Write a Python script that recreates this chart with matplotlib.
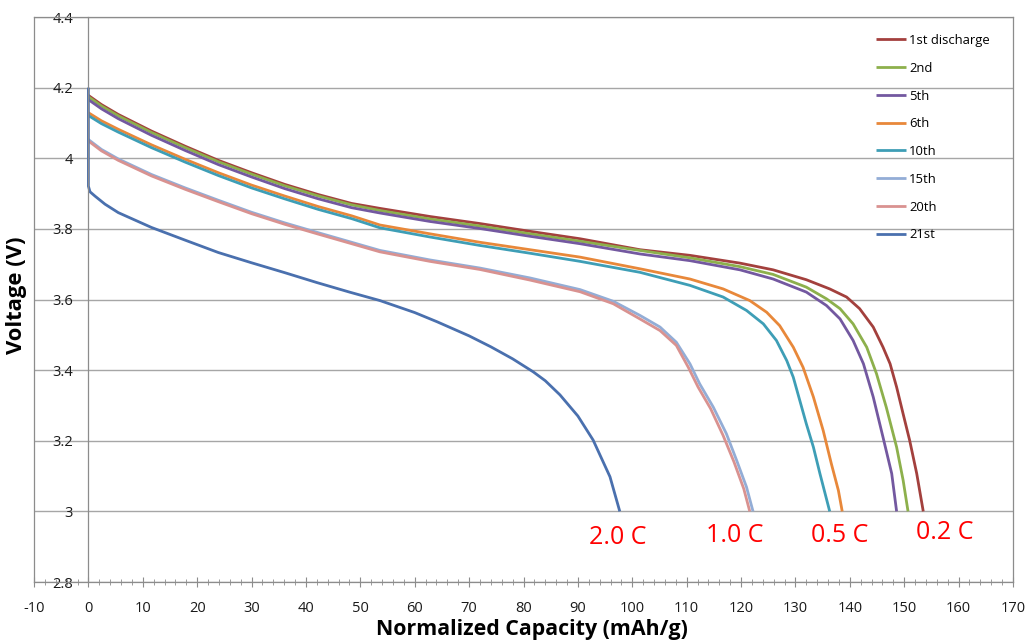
import matplotlib
matplotlib.use("Agg")
import matplotlib.pyplot as plt
from matplotlib.ticker import MultipleLocator

# ---- data ----
labels = ["1st discharge", "2nd", "5th", "6th", "10th", "15th", "20th", "21st"]
colors = ["#A3403D", "#8DB04C", "#7358A0", "#E8883A", "#3E9EB6", "#93ADD6", "#D99290", "#4A70AE"]

x_1st = [0, 2.4, 5.5, 11.6, 17.8, 23.9, 30.0, 36.1, 42.3, 48.4, 53.6, 62.8, 72.0, 81.2, 90.4, 101.4,
         110.6, 119.8, 125.9, 132.0, 136.3, 139.4, 141.8, 144.3, 146.1, 147.4, 148.6, 149.8, 151.0, 152.3, 153.5]
y_1st = [4.178, 4.152, 4.124, 4.077, 4.034, 3.994, 3.959, 3.926, 3.897, 3.872, 3.858, 3.835, 3.815, 3.793, 3.772, 3.741,
         3.725, 3.703, 3.684, 3.656, 3.630, 3.607, 3.574, 3.522, 3.465, 3.418, 3.352, 3.276, 3.201, 3.107, 3.0]

x_2nd = [0, 2.4, 5.5, 11.6, 17.8, 23.9, 30.0, 36.1, 42.3, 48.4, 53.6, 62.8, 72.0, 81.2, 90.4, 99.6,
         110.6, 119.8, 125.9, 132.0, 135.7, 138.2, 140.6, 143.1, 144.9, 146.7, 148.6, 149.8, 150.7]
y_2nd = [4.174, 4.148, 4.12, 4.073, 4.030, 3.990, 3.955, 3.922, 3.893, 3.868, 3.852, 3.828, 3.808, 3.786, 3.765, 3.743,
         3.718, 3.693, 3.671, 3.635, 3.602, 3.574, 3.531, 3.465, 3.390, 3.295, 3.182, 3.088, 3.0]

x_5th = [0, 2.4, 5.5, 11.6, 17.8, 23.9, 30.0, 36.1, 42.3, 48.4, 53.6, 62.8, 72.0, 81.2, 90.4, 101.4,
         110.6, 119.8, 125.9, 132.0, 135.7, 138.2, 140.6, 142.5, 144.3, 146.1, 147.7, 148.6]
y_5th = [4.166, 4.140, 4.112, 4.065, 4.022, 3.982, 3.947, 3.914, 3.885, 3.860, 3.845, 3.821, 3.801, 3.779, 3.758, 3.729,
         3.710, 3.684, 3.658, 3.621, 3.583, 3.545, 3.484, 3.418, 3.324, 3.210, 3.107, 3.0]

x_6th = [0, 2.4, 5.5, 11.6, 17.8, 23.9, 30.0, 36.1, 42.3, 48.4, 53.6, 62.8, 72.0, 81.2, 90.4, 101.4,
         110.6, 116.7, 121.6, 124.7, 127.1, 129.6, 131.4, 133.3, 135.1, 136.6, 137.9, 138.6]
y_6th = [4.129, 4.106, 4.082, 4.038, 3.997, 3.959, 3.924, 3.893, 3.863, 3.837, 3.811, 3.786, 3.762, 3.741, 3.720, 3.687,
         3.658, 3.630, 3.597, 3.564, 3.526, 3.465, 3.408, 3.324, 3.229, 3.135, 3.059, 3.0]

x_10th = [0, 2.4, 5.5, 11.6, 17.8, 23.9, 30.0, 36.1, 42.3, 48.4, 53.6, 62.8, 72.0, 81.2, 90.4, 101.4,
          110.6, 116.7, 121.0, 124.1, 126.5, 128.4, 129.6, 130.8, 132.0, 133.3, 134.5, 136.3]
y_10th = [4.121, 4.098, 4.074, 4.030, 3.989, 3.951, 3.916, 3.885, 3.855, 3.829, 3.803, 3.777, 3.753, 3.731, 3.708, 3.677,
          3.640, 3.607, 3.569, 3.531, 3.484, 3.427, 3.380, 3.314, 3.248, 3.182, 3.107, 3.0]

x_15th = [0, 2.4, 5.5, 11.6, 17.8, 23.9, 30.0, 36.1, 42.3, 48.4, 53.6, 62.8, 72.0, 81.2, 90.4, 96.5,
          101.4, 105.1, 108.1, 110.6, 112.4, 114.9, 117.3, 119.2, 121.0, 122.2]
y_15th = [4.053, 4.025, 3.998, 3.954, 3.916, 3.881, 3.847, 3.817, 3.789, 3.762, 3.739, 3.712, 3.689, 3.661, 3.628, 3.595,
          3.555, 3.522, 3.479, 3.418, 3.361, 3.295, 3.220, 3.144, 3.069, 3.0]

x_20th = [0, 2.4, 5.5, 11.6, 17.8, 23.9, 30.0, 36.1, 42.3, 48.4, 53.6, 62.8, 72.0, 81.2, 90.4, 96.5,
          101.4, 105.1, 108.1, 110.3, 112.1, 114.4, 116.7, 118.7, 120.5, 121.6]
y_20th = [4.049, 4.021, 3.994, 3.950, 3.912, 3.877, 3.843, 3.813, 3.785, 3.758, 3.735, 3.708, 3.685, 3.655, 3.622, 3.588,
          3.545, 3.512, 3.470, 3.408, 3.352, 3.291, 3.215, 3.140, 3.064, 3.0]

x_21st = [0, 0, 0.3, 1.2, 3.05, 5.5, 11.6, 17.8, 23.9, 30.0, 36.1, 42.0, 48.0, 53.6, 60.0, 64.1,
          70.0, 74.0, 78.0, 81.8, 84.0, 86.7, 90.0, 92.8, 95.9, 97.7]
y_21st = [4.2, 3.921, 3.905, 3.893, 3.870, 3.846, 3.804, 3.768, 3.733, 3.704, 3.676, 3.648, 3.621, 3.597, 3.563, 3.537,
          3.497, 3.466, 3.432, 3.395, 3.37, 3.33, 3.27, 3.202, 3.098, 3.0]

rate_labels = ["2.0 C", "1.0 C", "0.5 C", "0.2 C"]
rate_x = [97.4, 118.8, 138.2, 157.5]
rate_y = [2.927, 2.933, 2.933, 2.939]

xs = [x_1st, x_2nd, x_5th, x_6th, x_10th, x_15th, x_20th, x_21st]
ys = [y_1st, y_2nd, y_5th, y_6th, y_10th, y_15th, y_20th, y_21st]

# ---- figure ----
plt.rcParams['font.family'] = ['Open Sans', 'DejaVu Sans']
fig = plt.figure(figsize=(10.26, 6.43), dpi=100)
W, H = 1026, 643
L, R, T, B = 34, 1013, 17, 582
ax = fig.add_axes([L / W, 1 - B / H, (R - L) / W, (B - T) / H])

ax.set_xlim(-10, 170)
ax.set_ylim(2.8, 4.4)

grid_c = "#A6A6A6"
ax.xaxis.set_minor_locator(MultipleLocator(2))
ax.grid(axis='y', color=grid_c, lw=1.0)
ax.set_axisbelow(True)

for sp in ax.spines.values():
    sp.set_color("#8C8C8C")
    sp.set_linewidth(0.9)
ax.spines['left'].set_position(('data', 0))
ax.axvline(-10, color="#8C8C8C", lw=0.9, clip_on=False)

ax.tick_params(axis='x', which='major', direction='inout', length=7, color="#8C8C8C",
               labelsize=10.5, pad=10, labelcolor="#1a1a1a")
ax.tick_params(axis='x', which='minor', direction='inout', length=4, color="#8C8C8C")
ax.tick_params(axis='y', which='major', length=0, labelsize=10.5, pad=11, labelcolor="#1a1a1a")

def fmt(v):
    s = f"{v:.1f}"
    return s[:-2] if s.endswith(".0") else s
yt = [2.8 + 0.2 * i for i in range(9)]
ax.set_yticks(yt)
ax.set_yticklabels([fmt(v) for v in yt])
ax.set_xticks(list(range(-10, 171, 10)))
ax.set_xticklabels([str(v) for v in range(-10, 171, 10)])

for xv, yv, c, lab in zip(xs, ys, colors, labels):
    ax.plot(xv, yv, color=c, lw=2.0, label=lab, solid_joinstyle='round', solid_capstyle='butt')

for t, xv, yv in zip(rate_labels, rate_x, rate_y):
    ax.text(xv, yv, t, color="#FF0000", fontsize=18, ha='center', va='center')

fig.text(532 / W, 1 - 630 / H, "Normalized Capacity (mAh/g)", fontsize=15.4, fontweight='bold',
         ha='center', va='center')
fig.text(17 / W, 1 - 295 / H, "Voltage (V)", rotation=90, fontsize=15.8, fontweight='bold',
         ha='center', va='center')

leg = ax.legend(loc='upper left', bbox_to_anchor=((876 - L) / (R - L), 1 - (34 - T) / (B - T)),
                frameon=False, fontsize=9.4, handlelength=2.3, handletextpad=0.25,
                labelspacing=1.13, borderpad=0, borderaxespad=0)

fig.savefig("out.png", dpi=100)
